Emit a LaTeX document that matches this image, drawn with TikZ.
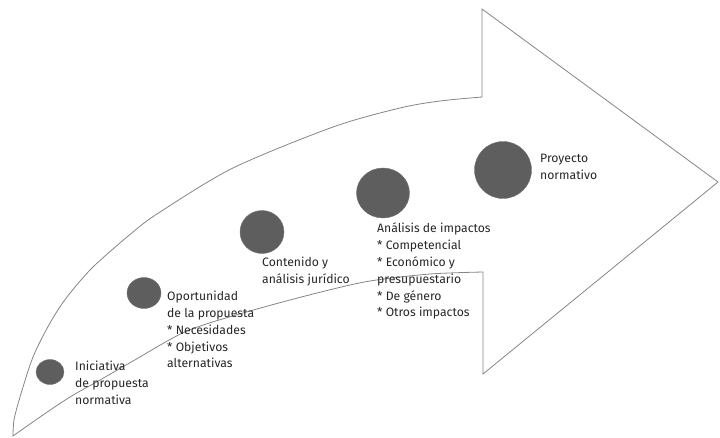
\documentclass[tikz,border=0pt]{standalone}
\usepackage{fontspec}
\setmainfont{Fira Sans}
\usetikzlibrary{shapes.geometric}
\begin{document}
\begin{tikzpicture}[x=1pt,y=-1pt,
  outline/.style={draw=black!48, line width=0.8pt, line join=miter},
  dot/.style={ellipse, fill=black!63, draw=black!55, line width=0.4pt, inner sep=0pt},
  lbl/.style={anchor=north west, align=left, inner sep=0pt, text=black!85,
    font=\fontsize{12.2}{16.8}\selectfont}]
\useasboundingbox (0,0) rectangle (720,437);
% arrow outline
\draw[outline] plot[smooth, tension=0.5] coordinates {(13,436) (14,420) (20,397) (33,357) (50,323) (67,297) (93,267) (133,232) (160,212) (233,168) (333,127) (400,108) (440,101) (482,97)}
  -- (482,9) -- (718,182) -- (483,374) -- (483,272)
  -- plot[smooth, tension=0.5] coordinates {(483,272) (430,274) (370,281) (317,293) (250,311) (187,331) (133,361) (100,380) (70,397) (40,417) (13,436)} -- cycle;
% dots
\node[dot, minimum width=28pt, minimum height=25pt] (d1) at (50,372) {};
\node[dot, minimum width=34pt, minimum height=31pt] (d2) at (144,293) {};
\node[dot, minimum width=44pt, minimum height=43pt] (d3) at (262,232) {};
\node[dot, minimum width=53pt, minimum height=50pt] (d4) at (383,193) {};
\node[dot, minimum width=57pt, minimum height=57pt] (d5) at (503,170) {};
% labels
\node[lbl] (t1) at (75,361) {Iniciativa\\de propuesta\\normativa};
\node[lbl] (t2) at (167,291) {Oportunidad\\de la propuesta\\* Necesidades\\* Objetivos\\alternativas};
\node[lbl] (t3) at (262,257) {Contenido y\\análisis jurídico};
\node[lbl] (t4) at (377,223) {Análisis de impactos\\* Competencial\\* Económico y\\presupuestario\\* De género\\* Otros impactos};
\node[lbl] (t5) at (540,154) {Proyecto\\normativo};
\end{tikzpicture}
\end{document}
